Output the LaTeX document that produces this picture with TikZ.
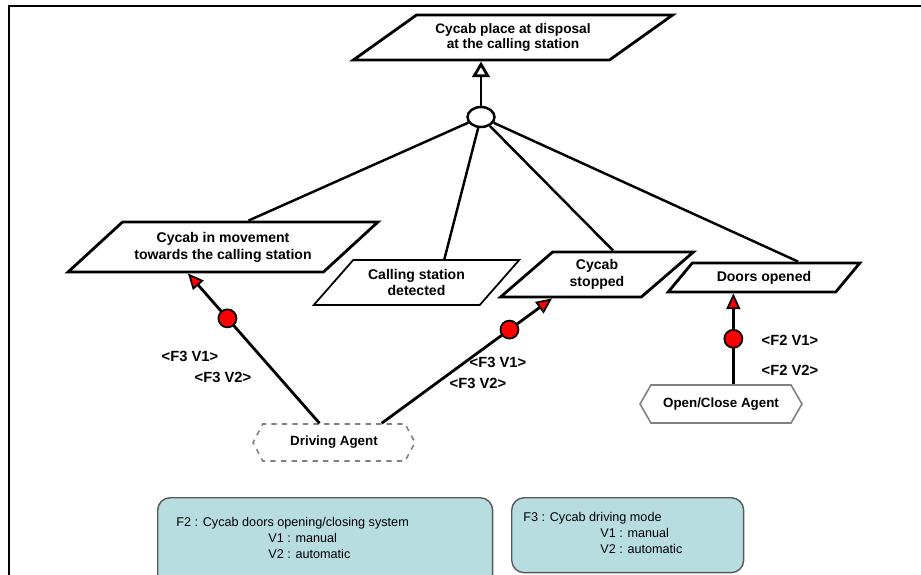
\documentclass[tikz,border=0pt]{standalone}
\usepackage{fontspec}
\setmainfont{Liberation Sans}
\usepackage{tikz}
\usetikzlibrary{shapes.geometric,shapes.symbols,arrows.meta}
\definecolor{legendfill}{RGB}{183,221,224}

\begin{document}
\begin{tikzpicture}[x=0.02cm, y=-0.02cm,
    goal/.style={trapezium, trapezium stretches=true, draw, line width=1.6pt, inner sep=0pt,
      align=center, font=\bfseries\fontsize{8}{9.6}\selectfont},
    agent/.style={signal, signal to=west and east, draw=gray, line width=0.9pt, inner sep=0pt,
      font=\bfseries\fontsize{7.6}{9}\selectfont},
    hub/.style={ellipse, draw, line width=1.4pt, minimum width=0.54cm, minimum height=0.4cm, inner sep=0pt},
    reddot/.style={circle, draw, fill=red, line width=1pt, minimum size=0.36cm, inner sep=0pt},
    link/.style={line width=1.4pt},
    agentarrow/.style={line width=1.6pt, -{Triangle[length=9pt, width=8pt, fill=red, line width=1pt]}},
    flab/.style={font=\bfseries\fontsize{8.4}{10}\selectfont, inner sep=0pt},
    legend/.style={draw=gray!70!black, fill=legendfill, line width=0.8pt, rounded corners=0.25cm, anchor=north west, inner sep=0pt},
    legtext/.style={align=left, anchor=north west, inner sep=0pt, font=\fontsize{7.2}{9.2}\selectfont}]
    \useasboundingbox (0,0) rectangle (921,575);

    % frame
    \draw[line width=1.2pt] (921,6) -- (9,6) -- (9,575);

    % goals
    \node[goal, font=\bfseries\fontsize{7.8}{9}\selectfont, trapezium left angle=29.4, trapezium right angle=150.6,
      minimum width=6.4cm, minimum height=0.9cm]
      (dispo) at (513,37.5) {Cycab place at disposal\\at the calling station};
    \node[hub] (hub) at (481,117) {};
    \node[goal, trapezium left angle=32, trapezium right angle=148, minimum width=6.2cm, minimum height=1cm]
      (move) at (223,247) {Cycab in movement\\towards the calling station};
    \node[goal, line width=1pt, trapezium left angle=42, trapezium right angle=138, minimum width=4.14cm, minimum height=0.9cm]
      (detect) at (416.5,282.5) {Calling station\\detected};
    \node[goal, trapezium left angle=43, trapezium right angle=137, minimum width=3.88cm, minimum height=0.9cm]
      (stopped) at (597,274.5) {Cycab\\stopped};
    \node[goal, trapezium left angle=39.6, trapezium right angle=140.4, minimum width=3.84cm, minimum height=0.58cm]
      (doors) at (764,277.5) {Doors opened};

    \draw[line width=1.6pt, -{Triangle[open, length=9pt, width=10pt]}] (hub) -- (hub |- dispo.south);
    \draw[link] (hub) -- (move.46);
    \draw[link] (hub) -- (detect.40);
    \draw[link] (hub) -- (stopped.56);
    \draw[link] (hub) -- (doors.25);

    % agents
    \node[agent, dashed, signal pointer angle=124, minimum width=3.24cm, minimum height=0.74cm]
      (drive) at (334,442.5) {Driving Agent};
    \node[agent, signal pointer angle=120, minimum width=3.24cm, minimum height=0.76cm]
      (oc) at (721,404) {Open/Close Agent};

    \draw[agentarrow] (drive.127) -- node[reddot, pos=0.7] (dotA) {} (move.217);
    \draw[agentarrow] (drive.22) -- node[reddot, pos=0.75] (dotB) {} (stopped.208);
    \draw[agentarrow] (oc.58) -- node[reddot, pos=0.5] (dotC) {} (oc.58 |- doors.south);

    \node[flab] (fA1) at (190,356) {\textless F3 V1\textgreater};
    \node[flab] (fA2) at (223,377) {\textless F3 V2\textgreater};
    \node[flab] (fB1) at (498,362) {\textless F3 V1\textgreater};
    \node[flab] (fB2) at (478,383) {\textless F3 V2\textgreater};
    \node[flab] (fC1) at (790,340) {\textless F2 V1\textgreater};
    \node[flab] (fC2) at (790,370) {\textless F2 V2\textgreater};

    % legend
    \node[legend, minimum width=6.7cm, minimum height=2.1cm] (fTwo) at (157,497) {};
    \node[legend, minimum width=4.64cm, minimum height=1.5cm] (fThree) at (511,497) {};
    \node[legtext] (fTwoText) at (176,517) {F2 : Cycab doors opening/closing system\\
      \hspace*{1.84cm}V1 : manual\\\hspace*{1.84cm}V2 : automatic};
    \node[legtext] (fThreeText) at (523,512) {F3 : Cycab driving mode\\
      \hspace*{1.54cm}V1 : manual\\\hspace*{1.54cm}V2 : automatic};
\end{tikzpicture}
\end{document}
